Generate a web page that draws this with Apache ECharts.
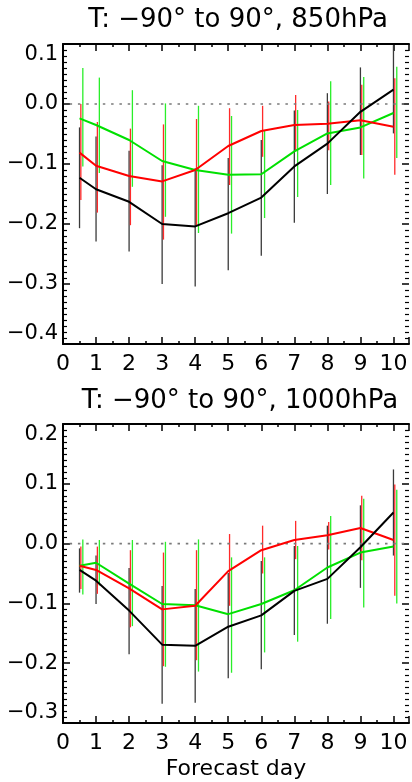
<!DOCTYPE html>
<html>
<head>
<meta charset="utf-8">
<script src="https://cdn.jsdelivr.net/npm/echarts@6/dist/echarts.min.js"></script>
<style>
  html, body { margin: 0; padding: 0; background: #fff; }
  #chart { width: 412px; height: 782px; }
</style>
</head>
<body>
<div id="chart"></div>
<script>
// ---- data ----
const days = [0.5, 1, 2, 3, 4, 5, 6, 7, 8, 9, 10];
const xTicks = [0, 1, 2, 3, 4, 5, 6, 7, 8, 9, 10];
const titles = ['T: −90° to 90°, 850hPa', 'T: −90° to 90°, 1000hPa'];
const xName = 'Forecast day';

// 850 hPa
const black850 = [-0.123, -0.142, -0.163, -0.200, -0.204, -0.182, -0.156, -0.104, -0.066, -0.013, 0.024];
const red850   = [-0.081, -0.103, -0.120, -0.129, -0.110, -0.070, -0.045, -0.035, -0.033, -0.027, -0.038];
const green850 = [-0.024, -0.035, -0.060, -0.095, -0.110, -0.118, -0.117, -0.079, -0.049, -0.039, -0.015];
const black850Lo = [-0.207, -0.229, -0.246, -0.300, -0.304, -0.277, -0.253, -0.198, -0.150, -0.085, -0.049];
const black850Hi = [-0.039, -0.054, -0.078, -0.102, -0.107, -0.090, -0.060, -0.011, 0.018, 0.061, 0.098];
const red850Lo   = [-0.160, -0.181, -0.202, -0.226, -0.202, -0.135, -0.088, -0.079, -0.077, -0.085, -0.118];
const red850Hi   = [0.000, -0.030, -0.041, -0.034, -0.025, -0.007, -0.003, 0.015, 0.004, 0.032, 0.043];
const green850Lo = [-0.104, -0.115, -0.138, -0.188, -0.215, -0.216, -0.190, -0.155, -0.135, -0.124, -0.090];
const green850Hi = [0.060, 0.044, 0.023, 0.001, -0.003, -0.020, -0.044, -0.010, 0.038, 0.045, 0.062];

// 1000 hPa
const black1000 = [-0.044, -0.062, -0.112, -0.169, -0.171, -0.139, -0.120, -0.079, -0.059, -0.006, 0.052];
const red1000   = [-0.037, -0.044, -0.075, -0.110, -0.104, -0.046, -0.011, 0.006, 0.014, 0.026, 0.006];
const green1000 = [-0.037, -0.032, -0.067, -0.101, -0.103, -0.118, -0.101, -0.078, -0.040, -0.015, -0.005];
const black1000Lo = [-0.082, -0.101, -0.185, -0.268, -0.266, -0.225, -0.210, -0.153, -0.134, -0.074, -0.020];
const black1000Hi = [-0.008, -0.020, -0.041, -0.071, -0.076, -0.049, -0.029, -0.004, 0.030, 0.064, 0.124];
const red1000Lo   = [-0.076, -0.084, -0.140, -0.205, -0.195, -0.104, -0.050, -0.026, -0.010, -0.028, -0.087];
const red1000Hi   = [-0.005, -0.005, -0.011, -0.015, -0.011, 0.016, 0.030, 0.038, 0.036, 0.080, 0.099];
const green1000Lo = [-0.085, -0.070, -0.138, -0.206, -0.214, -0.216, -0.182, -0.164, -0.126, -0.107, -0.100];
const green1000Hi = [0.007, 0.006, 0.006, 0.003, 0.007, -0.023, -0.023, -0.004, 0.046, 0.075, 0.090];

const yRanges = [[-0.4, 0.1], [-0.3, 0.2]];

// ---- styling ----
const XMAX = 10.47;
const FONT = 'DejaVu Sans';
const COL = { black: '#000000', red: '#ff0000', green: '#00e000' };
const BARCOL = { black: '#3a3a3a', red: '#ff2a2a', green: '#2aee2a' };
const BAROFF = { black: 0, red: 0.04, green: 0.1 };

function fmtY(v) {
  const r = Math.round(v * 10) / 10;
  if (r === 0) return '0.0';
  return (r < 0 ? '−' : '') + Math.abs(r).toFixed(1);
}

function xAxisDef(gi, pos, showLabel) {
  const a = {
    type: 'value', gridIndex: gi, position: pos, min: 0, max: XMAX, interval: 1,
    axisLine: { show: true, onZero: false, lineStyle: { color: '#000', width: 2 } },
    axisTick: { show: true, inside: true, length: 7, lineStyle: { color: '#000', width: 1.5 } },
    minorTick: { show: true, splitNumber: 2, length: 3, lineStyle: { color: '#000', width: 1.5 } },
    splitLine: { show: false }, minorSplitLine: { show: false },
    axisLabel: {
      show: showLabel, margin: 9, color: '#000', fontFamily: FONT, fontSize: 22,
      formatter: v => (xTicks.indexOf(Math.round(v * 1000) / 1000) >= 0 ? String(Math.round(v)) : '')
    }
  };
  if (gi === 1 && pos === 'bottom') {
    a.name = xName;
    a.nameLocation = 'middle';
    a.nameGap = 35;
    a.nameTextStyle = { color: '#000', fontFamily: FONT, fontSize: 22 };
  }
  return a;
}

function yAxisDef(gi, pos, showLabel) {
  return {
    type: 'value', gridIndex: gi, position: pos, min: yRanges[gi][0], max: yRanges[gi][1], interval: 0.1,
    axisLine: { show: pos === 'left', onZero: false, lineStyle: { color: '#000', width: 2 } },
    axisTick: { show: true, inside: true, length: 7, lineStyle: { color: '#000', width: 1.5 } },
    minorTick: { show: true, splitNumber: 10, length: 4, lineStyle: { color: '#000', width: 1.2 } },
    splitLine: { show: false }, minorSplitLine: { show: false },
    axisLabel: {
      show: showLabel, margin: 5, color: '#000', fontFamily: FONT, fontSize: 21,
      formatter: fmtY,
      verticalAlignMaxLabel: 'top', verticalAlignMinLabel: 'bottom'
    }
  };
}

function errSeries(gi, lo, hi, key) {
  const off = BAROFF[key];
  return {
    type: 'custom', xAxisIndex: gi * 2, yAxisIndex: gi * 2, silent: true, clip: true,
    data: days.map((d, i) => [d, lo[i], hi[i]]),
    encode: { x: 0, y: [1, 2] },
    renderItem: function (params, api) {
      const p1 = api.coord([api.value(0) + off, api.value(1)]);
      const p2 = api.coord([api.value(0) + off, api.value(2)]);
      return {
        type: 'line',
        shape: { x1: p1[0], y1: p1[1], x2: p2[0], y2: p2[1] },
        style: { stroke: BARCOL[key], lineWidth: 1.3 }
      };
    }
  };
}

function lineSeries(gi, vals, key) {
  return {
    type: 'line', xAxisIndex: gi * 2, yAxisIndex: gi * 2, silent: true,
    data: days.map((d, i) => [d, vals[i]]),
    symbol: 'none', lineStyle: { color: COL[key], width: 2 }, itemStyle: { color: COL[key] }
  };
}

function zeroLine(gi) {
  return {
    type: 'line', xAxisIndex: gi * 2, yAxisIndex: gi * 2, silent: true,
    data: [[0.2, 0], [XMAX, 0]], symbol: 'none',
    lineStyle: { color: '#7a7a7a', width: 1.6, type: [2.5, 5.8] }
  };
}

const panels = [
  { b: black850, r: red850, g: green850, bl: black850Lo, bh: black850Hi, rl: red850Lo, rh: red850Hi, gl: green850Lo, gh: green850Hi },
  { b: black1000, r: red1000, g: green1000, bl: black1000Lo, bh: black1000Hi, rl: red1000Lo, rh: red1000Hi, gl: green1000Lo, gh: green1000Hi }
];

const series = [];
panels.forEach((p, gi) => {
  series.push(zeroLine(gi));
  series.push(errSeries(gi, p.bl, p.bh, 'black'));
  series.push(errSeries(gi, p.rl, p.rh, 'red'));
  series.push(errSeries(gi, p.gl, p.gh, 'green'));
  series.push(lineSeries(gi, p.g, 'green'));
  series.push(lineSeries(gi, p.r, 'red'));
  series.push(lineSeries(gi, p.b, 'black'));
});

const chart = echarts.init(document.getElementById('chart'), null, { renderer: 'canvas' });
chart.setOption({
  animation: false,
  backgroundColor: '#fff',
  grid: [
    { left: 63, top: 44, width: 349, height: 300 },
    { left: 63, top: 424, width: 349, height: 299 }
  ],
  xAxis: [xAxisDef(0, 'bottom', true), xAxisDef(0, 'top', false), xAxisDef(1, 'bottom', true), xAxisDef(1, 'top', false)],
  yAxis: [yAxisDef(0, 'left', true), yAxisDef(0, 'right', false), yAxisDef(1, 'left', true), yAxisDef(1, 'right', false)],
  graphic: [
    { type: 'text', x: 238, y: 20, style: { text: titles[0], font: '26px "DejaVu Sans"', fill: '#000', textAlign: 'center', textVerticalAlign: 'middle' } },
    { type: 'text', x: 240, y: 401, style: { text: titles[1], font: '26px "DejaVu Sans"', fill: '#000', textAlign: 'center', textVerticalAlign: 'middle' } }
  ],
  series: series
});
</script>
</body>
</html>
